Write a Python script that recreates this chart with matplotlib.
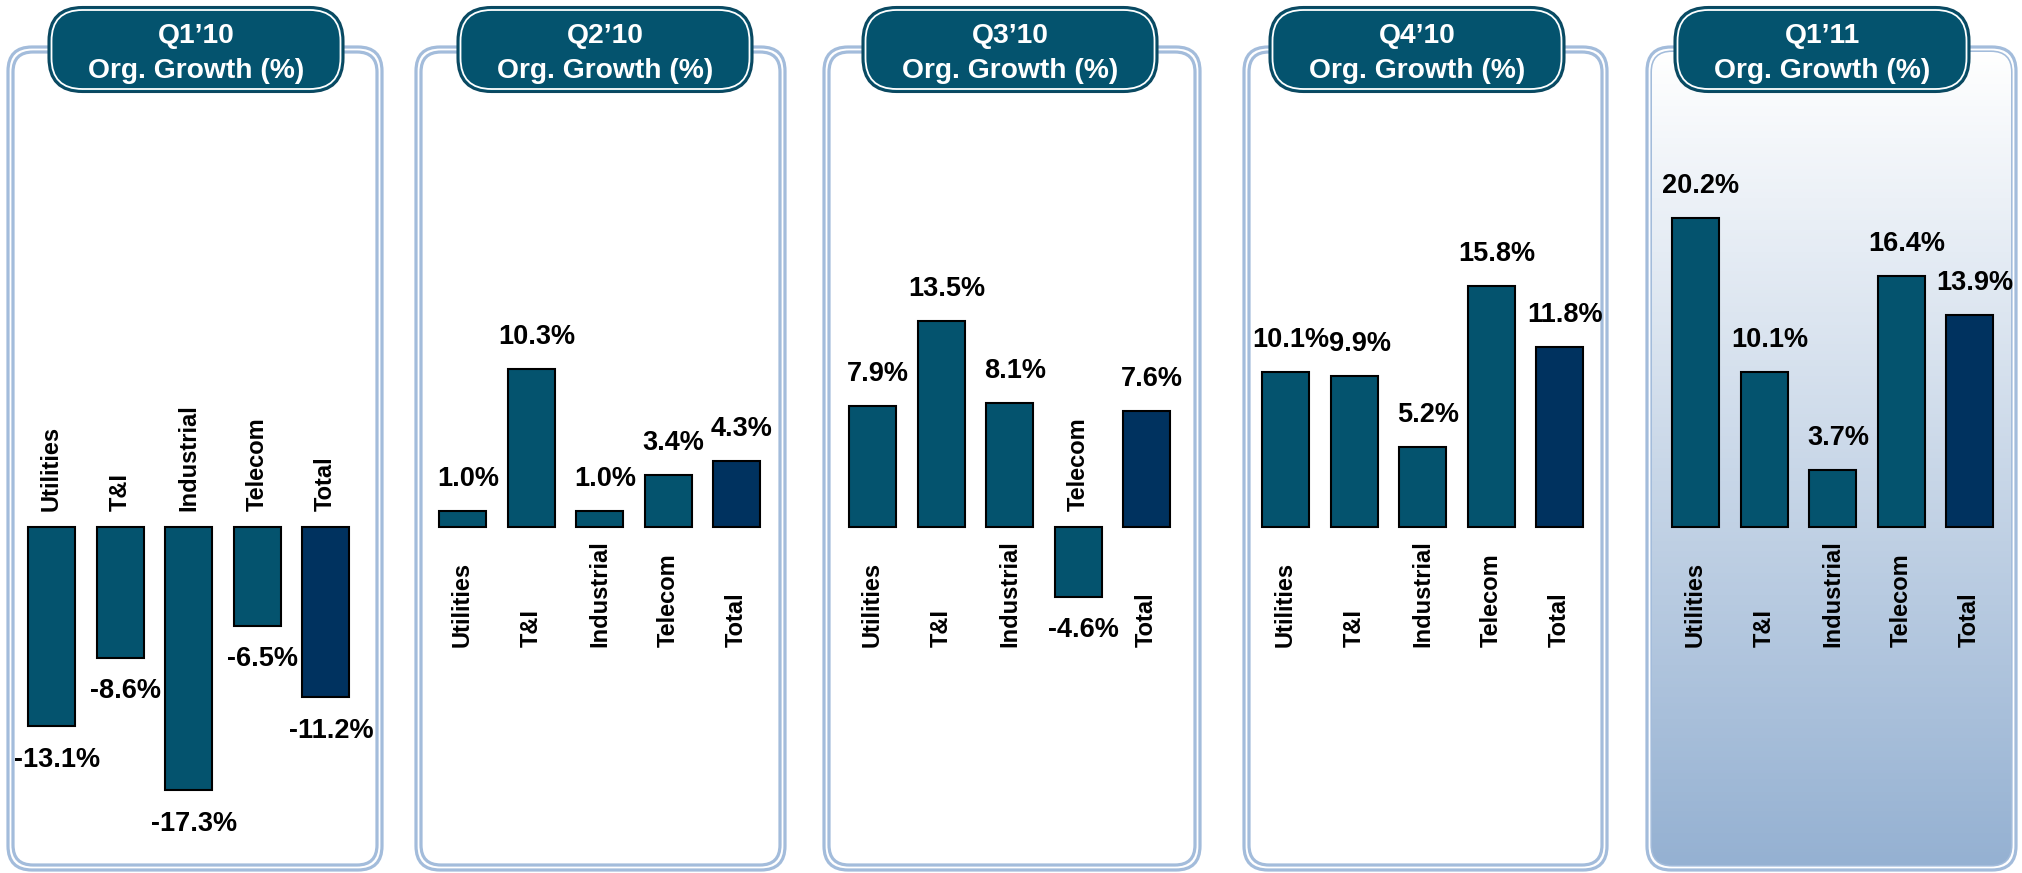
import numpy as np
import matplotlib
matplotlib.use("Agg")
import matplotlib.pyplot as plt
from matplotlib.patches import FancyBboxPatch
from matplotlib.colors import LinearSegmentedColormap

plt.rcParams['font.family'] = ['Liberation Sans', 'DejaVu Sans']

# data
categories = ['Utilities', 'T&I', 'Industrial', 'Telecom', 'Total']
quarters = ['Q1\u201910', 'Q2\u201910', 'Q3\u201910', 'Q4\u201910', 'Q1\u201911']
q1_10 = [-13.1, -8.6, -17.3, -6.5, -11.2]
q2_10 = [1.0, 10.3, 1.0, 3.4, 4.3]
q3_10 = [7.9, 13.5, 8.1, -4.6, 7.6]
q4_10 = [10.1, 9.9, 5.2, 15.8, 11.8]
q1_11 = [20.2, 10.1, 3.7, 16.4, 13.9]
growth = [q1_10, q2_10, q3_10, q4_10, q1_11]

# layout (pixels of the 2022x873 picture, y from top)
W, H = 2022, 873
box_left = [7, 415, 823, 1243, 1646]
box_right = [383, 786, 1201, 1608, 2017]
box_top, box_bot = 47, 871
head_cx = [196, 605, 1010, 1417, 1822]
head_w, head_top, head_bot = 295, 7, 92
first_bar = [51.5, 462.5, 872.5, 1285.5, 1695.5]
step = 68.5
zero_y = 526.5
px_per_pct = 15.25

teal = '#04536e'
navy = '#00325f'
frame = '#a3bcdb'

fig = plt.figure(figsize=(W / 100, H / 100), dpi=100)
bg = fig.add_axes([0, 0, 1, 1])
bg.set_xlim(0, W)
bg.set_ylim(H, 0)
bg.axis('off')

grad_cmap = LinearSegmentedColormap.from_list('g', ['#ffffff', '#95b1d2'])

for i in range(5):
    L, R = box_left[i], box_right[i]
    outer = FancyBboxPatch((L + 1, box_top), R - L - 2, box_bot - box_top - 1,
                           boxstyle='round,pad=0,rounding_size=24',
                           fc='none', ec=frame, lw=2.3)
    inner = FancyBboxPatch((L + 6, box_top + 5), R - L - 12, box_bot - box_top - 11,
                           boxstyle='round,pad=0,rounding_size=20',
                           fc='white', ec=frame, lw=2.3)
    bg.add_patch(inner)
    bg.add_patch(outer)
    if i == 4:
        grad = np.linspace(0, 1, 256).reshape(-1, 1)
        im = bg.imshow(grad, cmap=grad_cmap, aspect='auto', origin='upper',
                       extent=[L + 6, R - 6, box_bot - 6, box_top + 5], zorder=1.5)
        im.set_clip_path(inner)

    # header pill
    hx = head_cx[i] - head_w / 2
    hd = FancyBboxPatch((hx, head_top), head_w, head_bot - head_top,
                        boxstyle='round,pad=0,rounding_size=34',
                        fc=teal, ec='#0b4860', lw=1.5, zorder=3)
    hl = FancyBboxPatch((hx + 3, head_top + 3), head_w - 6, head_bot - head_top - 6,
                        boxstyle='round,pad=0,rounding_size=31',
                        fc='none', ec='white', lw=1.3, zorder=3)
    bg.add_patch(hd)
    bg.add_patch(hl)
    bg.text(head_cx[i], 43, quarters[i], color='white', fontsize=20.3, weight='bold',
            ha='center', va='baseline', zorder=4)
    bg.text(head_cx[i], 78, 'Org. Growth (%)', color='white', fontsize=20.3, weight='bold',
            ha='center', va='baseline', zorder=4)

# bar panels
for i in range(5):
    left = first_bar[i] - step / 2
    ax = fig.add_axes([left / W, (H - box_bot) / H, 5 * step / W, (box_bot - box_top) / H])
    ax.patch.set_alpha(0)
    ax.set_xlim(-0.5, 4.5)
    ax.set_ylim(-(box_bot - zero_y) / px_per_pct, (zero_y - box_top) / px_per_pct)
    ax.axis('off')
    vals = growth[i]
    x = np.arange(len(categories))
    colors = [teal] * 4 + [navy]
    ax.bar(x, vals, width=47 / step, color=colors, edgecolor='black', linewidth=1.5)
    for xi, v, cat in zip(x, vals, categories):
        if v >= 0:
            ax.annotate(f'{v:.1f}%', (xi, v), xytext=(4, 18), textcoords='offset points',
                        ha='center', va='baseline', fontsize=19.5, weight='bold')
            ax.annotate(cat, (xi, 0), xytext=(0, -87), textcoords='offset points',
                        ha='center', va='bottom', rotation=90, fontsize=17, weight='bold')
        else:
            ax.annotate(f'{v:.1f}%', (xi, v), xytext=(4, -29), textcoords='offset points',
                        ha='center', va='baseline', fontsize=19.5, weight='bold')
            ax.annotate(cat, (xi, 0), xytext=(0, 11), textcoords='offset points',
                        ha='center', va='bottom', rotation=90, fontsize=17, weight='bold')

fig.savefig('out.png', dpi=100)
